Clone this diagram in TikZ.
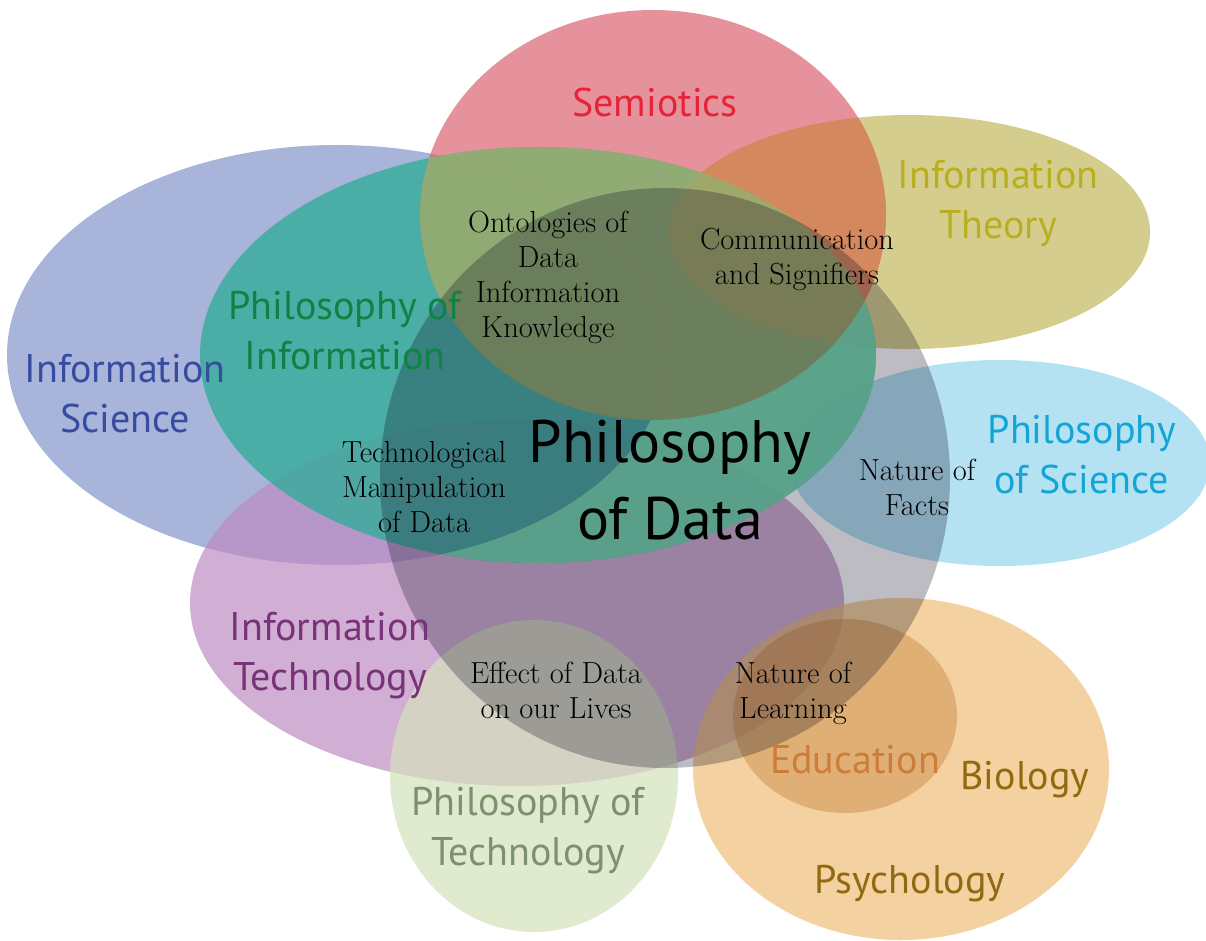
\documentclass[tikz,border=0pt]{standalone}
\usepackage{fontspec}
\newfontfamily\labsans{PT Sans}
\definecolor{cSci}{RGB}{140,155,205}
\definecolor{cTech}{RGB}{190,140,195}
\definecolor{cPTech}{RGB}{212,226,188}
\definecolor{cBio}{RGB}{240,190,120}
\definecolor{cEdu}{RGB}{200,135,65}
\definecolor{cPSci}{RGB}{150,215,238}
\definecolor{cTheo}{RGB}{195,185,95}
\definecolor{cSemi}{RGB}{220,100,115}
\definecolor{cPInfo}{RGB}{44,173,150}
\definecolor{cOlive}{RGB}{155,172,110}
\definecolor{cRust}{RGB}{210,138,88}
\definecolor{cGreen}{RGB}{100,170,142}
\definecolor{cPData}{RGB}{10,10,30}
\definecolor{tSemi}{RGB}{230,35,55}
\definecolor{tTheo}{RGB}{185,175,30}
\definecolor{tSci}{RGB}{55,75,160}
\definecolor{tPInfo}{RGB}{15,130,70}
\definecolor{tPSci}{RGB}{20,165,215}
\definecolor{tTech}{RGB}{120,50,120}
\definecolor{tPTech}{RGB}{125,145,110}
\definecolor{tEdu}{RGB}{205,125,55}
\definecolor{tBio}{RGB}{145,105,15}
\newcommand\pSci{(337,355) ellipse [x radius=330pt, y radius=210pt]}
\newcommand\pTech{(517,603) ellipse [x radius=327pt, y radius=183pt]}
\newcommand\pPTech{(534,776) ellipse [x radius=144pt, y radius=156pt]}
\newcommand\pBio{(901,769) ellipse [x radius=208pt, y radius=171pt]}
\newcommand\pEdu{(845,716) ellipse [x radius=112pt, y radius=97pt]}
\newcommand\pPSci{(1000,463) ellipse [x radius=210pt, y radius=103pt]}
\newcommand\pTheo{(909,232) ellipse [x radius=241pt, y radius=117pt]}
\newcommand\pSemi{(653,215) ellipse [x radius=233pt, y radius=205pt]}
\newcommand\pPInfo{(538,355) ellipse [x radius=338pt, y radius=208pt]}
\newcommand\pPData{(665,478) ellipse [x radius=285pt, y radius=290pt]}
\newcommand\pAll{(0,0) rectangle (1206,941)}
\begin{document}
\begin{tikzpicture}[x=1pt,y=-1pt,
  blob/.style={fill opacity=0.7},
  lab/.style={font=\labsans\fontsize{40}{50}\selectfont, align=center, inner sep=0pt},
  big/.style={font=\labsans\fontsize{60}{77}\selectfont, align=center, inner sep=0pt, text=black},
  ser/.style={font=\fontsize{30.5}{35}\selectfont, align=center, inner sep=0pt, text=black}]
\useasboundingbox \pAll;
\fill[white] \pAll;
% circles
\fill[cSci, fill opacity=0.75] \pSci;
\fill[cTech, blob] \pTech;
\fill[cPTech, blob] \pPTech;
\fill[cBio, blob] \pBio;
\fill[cEdu, fill opacity=0.45] \pEdu;
\fill[cPSci, blob] \pPSci;
\fill[cTheo, blob] \pTheo;
\fill[cSemi, blob] \pSemi;
\fill[cPInfo, fill opacity=0.75] \pPInfo;
% overlap tints
\begin{scope}
  \clip \pSemi;
  \fill[cRust, fill opacity=0.85] \pTheo;
  \fill[cOlive, fill opacity=0.85] \pPInfo;
\end{scope}
% philosophy of data
\fill[cPData, fill opacity=0.27] \pPData;
\begin{scope}[even odd rule]
  \clip \pAll \pSci;
  \clip \pAll \pSemi;
  \clip \pPData;
  \fill[cGreen, fill opacity=0.75] \pPInfo;
\end{scope}
% labels
\node[lab, text=tSemi] (semiotics) at (655,103) {Semiotics};
\node[lab, text=tTheo] (infotheory) at (998,203) {Information\\Theory};
\node[lab, text=tSci] (infosci) at (125,394) {Information\\Science};
\node[lab, text=tPInfo] (philinfo) at (345,331) {Philosophy of\\Information};
\node[lab, text=tPSci] (philsci) at (1082,455) {Philosophy\\of Science};
\node[lab, text=tTech] (infotech) at (330,656) {Information\\Technology};
\node[lab, text=tPTech] (philtech) at (528,831) {Philosophy of\\Technology};
\node[lab, text=tEdu] (education) at (855,760) {Education};
\node[lab, text=tBio] (biology) at (1025,780) {Biology};
\node[lab, text=tBio] (psychology) at (910,884) {Psychology};
\node[big] (phildata) at (670,480) {Philosophy\\of Data};
\node[ser] (ontologies) at (548,277) {Ontologies of\\Data\\Information\\Knowledge};
\node[ser] (communication) at (797,259) {Communication\\and Signifiers};
\node[ser] (techmanip) at (424,487) {Technological\\Manipulation\\of Data};
\node[ser] (facts) at (917,487) {Nature of\\Facts};
\node[ser] (effect) at (556,690) {Effect of Data\\on our Lives};
\node[ser] (learning) at (793,693) {Nature of\\Learning};
\end{tikzpicture}
\end{document}
